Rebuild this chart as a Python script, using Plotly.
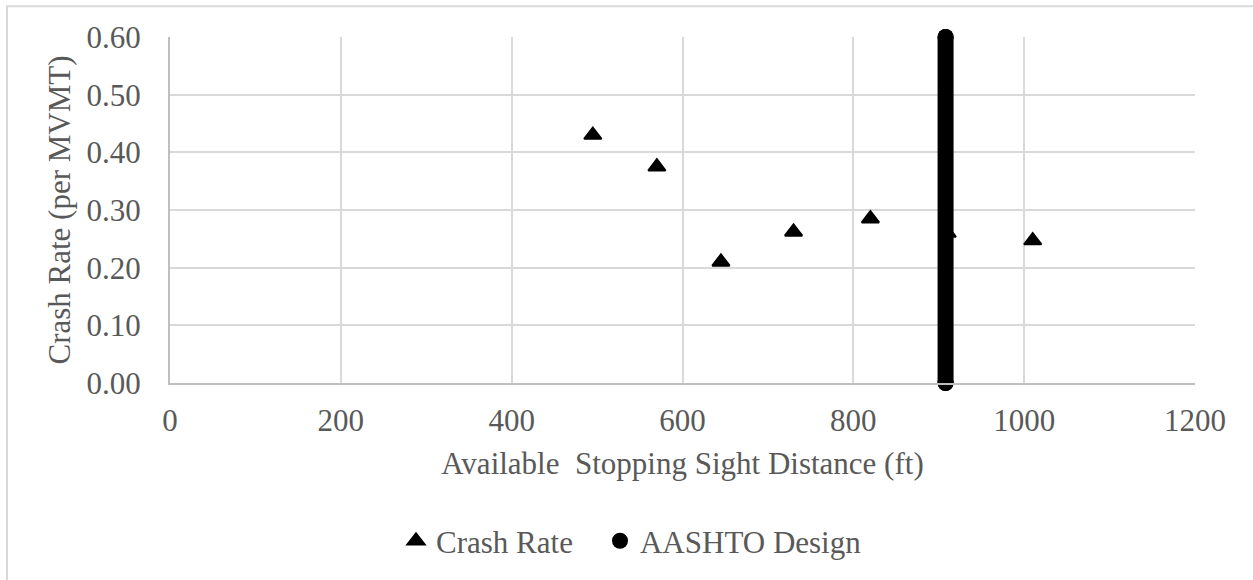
import plotly.graph_objects as go

# Data
crash_x = [495, 570, 645, 730, 820, 910, 1010]
crash_y = [0.43, 0.375, 0.21, 0.262, 0.285, 0.26, 0.247]
aashto_x = [908, 908]
aashto_y = [0.00, 0.60]

x_ticks = [0, 200, 400, 600, 800, 1000, 1200]
y_ticks = [0.0, 0.1, 0.2, 0.3, 0.4, 0.5, 0.6]

FONT = "Liberation Serif"
TXT = "#595959"
GRID = "#d9d9d9"
FS = 31

fig = go.Figure()

fig.add_trace(go.Scatter(
    x=crash_x, y=crash_y, mode="markers", name="Crash Rate",
    marker=dict(symbol="triangle-up", size=15, color="black",
                line=dict(color="black", width=2)),
    cliponaxis=False, legend="legend",
))

# vertical design line (thick) + round ends
fig.add_trace(go.Scatter(
    x=aashto_x, y=aashto_y, mode="lines+markers", name="AASHTO Design",
    line=dict(color="black", width=16),
    marker=dict(symbol="circle", size=16, color="black"),
    showlegend=False, legendgroup="a", cliponaxis=False,
))
fig.add_trace(go.Scatter(
    x=aashto_x, y=aashto_y, mode="markers", name="AASHTO Design",
    marker=dict(symbol="circle", size=16, color="black"),
    legendgroup="a", cliponaxis=False, legend="legend2",
))

leg_common = dict(orientation="h", xanchor="left", y=-0.457, yanchor="middle",
                  font=dict(family=FONT, size=FS, color=TXT),
                  itemsizing="trace", bgcolor="rgba(0,0,0,0)")

fig.update_layout(
    width=1253, height=580,
    margin=dict(l=170, r=58, t=37, b=197),
    paper_bgcolor="white", plot_bgcolor="white",
    font=dict(family=FONT, size=FS, color=TXT),
    showlegend=True,
    legend=dict(x=0.2205, **leg_common),
    legend2=dict(x=0.4195, **leg_common),
    xaxis=dict(
        range=[0, 1200], tickvals=x_ticks, ticktext=[str(v) for v in x_ticks],
        showgrid=True, gridcolor=GRID, gridwidth=2,
        showline=True, linecolor="#bfbfbf", linewidth=2,
        zeroline=False, ticks="", ticklabelstandoff=9,
        title=dict(text="Available  Stopping Sight Distance (ft)",
                   font=dict(family=FONT, size=FS, color=TXT), standoff=15),
    ),
    yaxis=dict(
        range=[0, 0.6], tickvals=y_ticks, ticktext=["%.2f" % v for v in y_ticks],
        showgrid=True, gridcolor=GRID, gridwidth=2,
        showline=True, linecolor="#bfbfbf", linewidth=2,
        zeroline=False, ticks="", ticklabelstandoff=21,
        title=dict(text="Crash Rate (per MVMT)",
                   font=dict(family=FONT, size=FS, color=TXT), standoff=7),
    ),
    shapes=[dict(type="rect", xref="paper", yref="paper",
                 x0=-0.159, x1=1.07, y0=-0.62, y1=1.0887,
                 line=dict(color=GRID, width=2), layer="below")],
)

fig.write_html("out.html")
